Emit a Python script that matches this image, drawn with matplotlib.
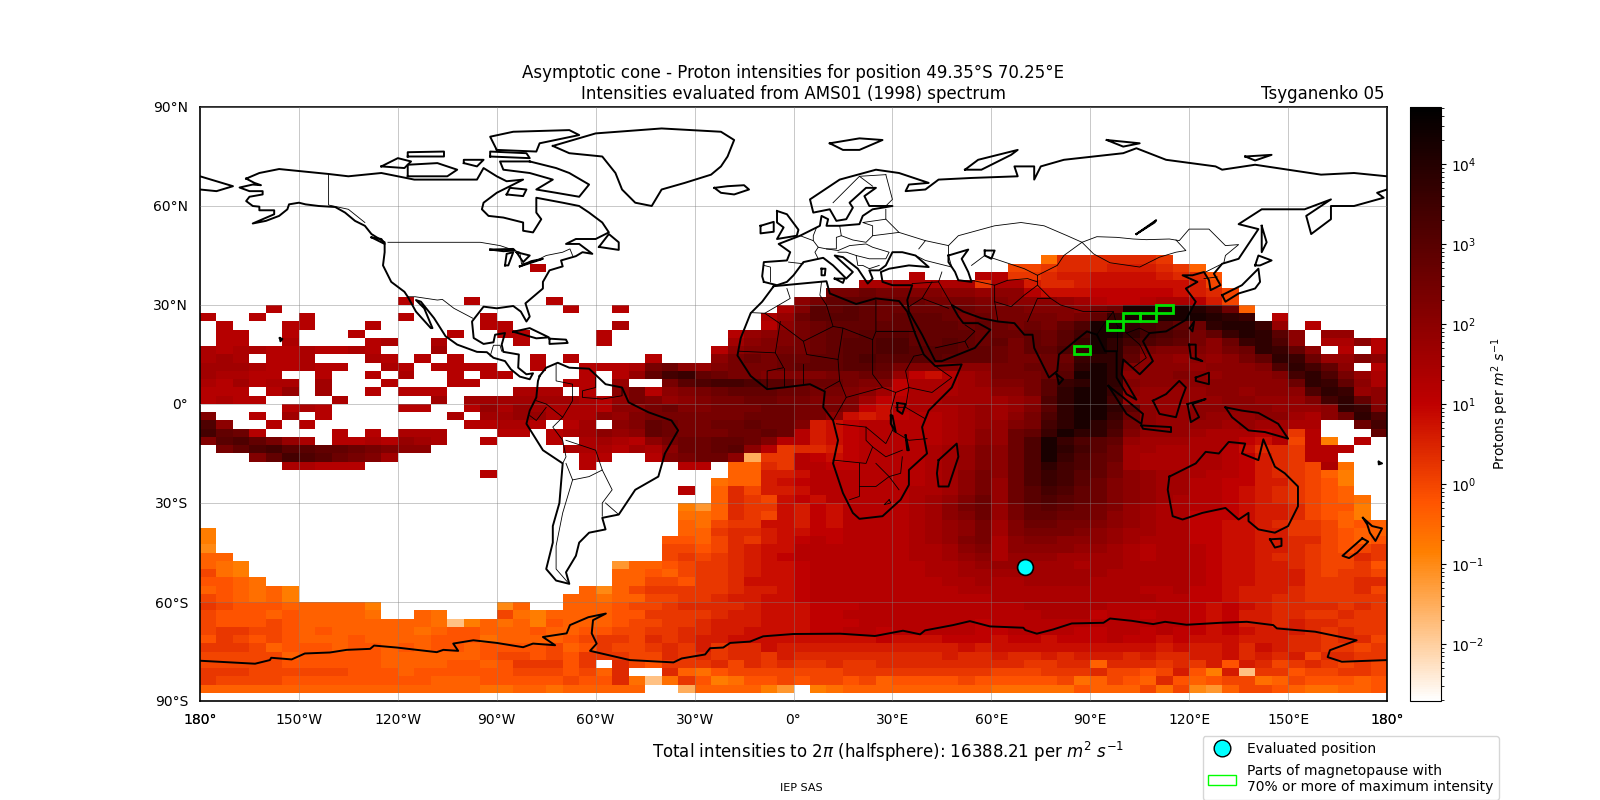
import matplotlib
matplotlib.use('Agg')
import matplotlib.pyplot as plt
import numpy as np
from matplotlib.colors import LogNorm
from matplotlib.lines import Line2D
from matplotlib.patches import Patch, Rectangle

E = '......'

# intensity cells, 5 x 2.5 degrees, north to south from 45N, one letter per cell
# each group of six cells spans 30 degrees of longitude
intensity_rows = [
    [E, E, E, E, E, E, E, E, '...dii', 'iiiih.', E, E],
    [E, E, E, '..m...', E, E, E, E, '.gghii', 'ijjjih', 'e.....', E],
    [E, E, E, E, E, E, E, '.m...m', 'mhhijj', 'kkkkji', 'if....', E],
    [E, E, E, E, E, E, '....nn', 'nnnnnh', 'nnjiij', 'kkkkkk', 'jg....', E],
    [E, E, E, E, E, E, '..ssts', 'srrqqp', 'qqmkkk', 'lllllk', 'jig...', E],
    [E, E, 'm...m.', '...m..', E, E, 'qsuuut', 'ttsssr', 'rqqqpo', 'mllmnn', 'mjg...', E],
    ['....m.', E, E, '....m.', '.m....', '.....n', 'rvuvut', 'ttttts', 'ssrrrq', 'st9999', '8yte..', E],
    ['m..m..', 'm.....', 'm....m', E, E, '....np', 'tvvvut', 'uuutst', 'ssssrs', 'uy9999', '98zy.m', E],
    ['.m...m', 'm...m.', '.....m', 'm.....', '.n....', '....mq', 'stuuuu', 'uuuutu', 'tstsuw', '99zxwu', 'tz88yp', '.m....'],
    ['.mm..m', '...m..', '...m..', 'mm....', 'm.....', '..mpqr', 'stuuvv', 'vuuuut', 'ttutvx', '99zxwv', 'suy8zv', 'q.pp..'],
    ['.mm..n', '....mn', '..n...', '.m....', 'm.....', '..oqrr', 'stuvvw', 'wuuvut', 'usutvy', '9zxwvu', 'sqtyzw', 'q.nnqm'],
    ['nmnnmm', 'nmmnm.', '..o...', E, E, '.mqrrs', 'stuvvw', 'wvvvuu', 'tsuuwz', '9zvsrr', 'rqstzy', 'uq.m.m'],
    ['non.mm', 'n...nm', '.m.m..', '..m.m.', '...m..', '.qstst', 'tuuvwv', 'vvvuuu', 'tsstty', 'zzuqqp', 'qpqsuz', 'ytpprq'],
    ['ooonmm', 'nmm..n', 'm.mmmm', '..m..m', 'mmnstq', 'prssst', 'uuuvvu', 'srrrqq', 'ssttuz', '9zrqqq', 'pqqqrw', 'zxuq.m'],
    ['onnmm.', '.m..m.', 'n..m.m', 'm....m', '.mpuxy', 'utssrr', 'rrsstt', 'plkmop', 'ssstv9', '9zqqqr', 'qpqqqr', 'xzwspn'],
    ['nmomnn', '.o...m', '...mm.', '....mm', '.p..sv', 'wxxwvv', 'tttsrr', 'lnnnop', 'rrsvyz', '9zrqqq', 'qqqqqq', 'tzyuqn'],
    ['mmm.mp', '.o..m.', 'mmm...', '.nnn.m', '.qsmqr', 'stuuut', 'tssrqo', 'lnnnoo', 'qqsvz9', '9yqppp', 'pqqpqq', 'qwzypq'],
    ['mnmm..', '..n...', '..o.oo', 'ooooon', 'mpsrpq', 'rsstts', 'srrrol', 'mnnooo', 'opqwz9', '9xpppp', 'ppqqpp', 'prxzuq'],
    ['.....m', 'nm....', 'mm..mp', 'nponnn', 'mqqstr', 'rssstt', 'sssrlk', 'mnnnop', 'oprvz9', '9zvqpp', 'qqqqqp', 'ppqzyr'],
    ['r..m.o', '.m....', '...n.o', 'oppnnn', 'qprsss', 'sssttt', 'ssqkjk', 'lmmnop', 'oqswz9', '9ytqpp', 'qpppqq', 'onqtzw'],
    ['wq..m.', 'm.....', '....mm', 'nnm.mo', '.qruts', 'sttutt', 'rjklmm', 'mmmnop', 'prsxz9', 'zxsqpp', 'ppopoo', 'nn..tx'],
    ['xutm..', '..m.m.', 'nnn...', 'mm.mno', 'qpquts', 'ssttut', 'mjklmm', 'mmmnoq', 'ptuy9z', 'zwrppp', 'onnnmn', 'hm...u'],
    ['rvwusp', 'n.mmnm', 'pon..m', '...m.n', 'onmqst', 'tuutrm', 'mjklmm', 'mmmnoq', 'ptw9yw', 'vupooo', 'nnnlkm', 'gmc.m.'],
    ['.suwxv', 'vuutsr', 'qq....', '....nn', 'nmonqt', 'tuvqmh', 'iijlmm', 'mmnopr', 'qtw9zx', 'vtoonn', 'nnmkii', 'hmmm..'],
    ['...rux', 'wvtsro', E, '.....m', 'm..mrs', 'ttq2hh', 'mlklmm', 'mmnopr', 'qtw9yw', 'utonnn', 'nnmlji', 'hmm...'],
    ['.....n', 'nmmm..', E, '.....m', '.....m', 'm.eeih', 'mmllmm', 'mmnopr', 'qtwzxw', 'usonnn', 'nnmlji', 'hgnd..'],
    [E, E, '.....m', E, E, '..eejj', 'kmmmmm', 'mmnoqs', 'qtwyxv', 'usqpoo', 'nmmlji', 'hgec..'],
    [E, E, E, E, E, '.deejk', 'lmmmmm', 'mmnoqs', 'ptwyxv', 'trqpoo', 'mmlljj', 'hgfc..'],
    [E, E, E, E, '.....m', '.eigjj', 'kmmmmm', 'mnnoqs', 'ptvxwu', 'trqpoo', 'mmlkji', 'hgfe..'],
    [E, E, E, E, E, '.eihgk', 'lkmmmm', 'mnoprt', 'ptvwvu', 'trqpon', 'mmlkji', 'hgfed.'],
    [E, E, E, E, '.....c', 'aeihhk', 'jlkmmm', 'mnoqst', 'psuvut', 'srponn', 'mmlkjj', 'igffc.'],
    [E, E, E, E, '.....d', 'deihgk', 'jlkmmm', 'mnoqrt', 'psuutt', 'sqponn', 'lllkjj', 'igfec.'],
    [E, E, E, E, '.....e', 'dghhkk', 'jlkmmm', 'mnopqs', 'orttss', 'rqponn', 'llkkji', 'hhgefe'],
    ['c.....', E, E, E, '.....e', 'ehiijk', 'kllmmm', 'mnopqs', 'orsssr', 'qpoonn', 'llkkjj', 'hhgfee'],
    ['c.....', E, E, E, '....ff', 'egihjk', 'lmlmmm', 'mnoprs', 'nqrrqq', 'qponnn', 'llkkjj', 'iigfef'],
    ['b.....', E, E, E, '....gg', 'fgijkk', 'mmmmmm', 'mnnoqr', 'nqqqqp', 'ponmnn', 'mlkkjj', 'ihgfgh'],
    ['ee....', E, E, E, '....gh', 'ghijkl', 'mmmmmm', 'mnnopq', 'npppoo', 'oonmnn', 'mlkkji', 'ihggih'],
    ['edc...', E, E, E, '.aeefg', 'hhijkk', 'lmmmmm', 'mmnnop', 'ppooon', 'oonnnn', 'mlkkjj', 'ihgghf'],
    ['gdc...', E, E, E, '.eefeg', 'hhijkk', 'lmmmmm', 'mmnnoo', 'oooooo', 'onnnnn', 'mlkkjj', 'jhghhg'],
    ['ffed..', E, E, E, '.eeggf', 'hhikkk', 'lmmmmm', 'mmmnno', 'nnoooo', 'nnnnnn', 'mlkkjj', 'jhhhii'],
    ['efedec', E, E, '.....e', 'beghhh', 'hhijjk', 'lmmmmm', 'mmmmnn', 'nnnnnn', 'nnnmmn', 'llkjjj', 'ihhhig'],
    ['gfedec', E, E, '....ee', 'deeggh', 'hijjkk', 'lmmmmm', 'mmmmmm', 'nnnnnn', 'nnnnmm', 'llkjji', 'ihhhhh'],
    ['hgfffe', 'eeeec.', E, 'be..ee', 'efgghi', 'iiijkk', 'klllmm', 'mmmmmm', 'mmnnnn', 'nmmmmm', 'lklkji', 'iiihih'],
    ['gfffef', 'eeeed.', '.ed...', 'gdceee', 'effhhh', 'hijjkk', 'kllmmm', 'mmmmmm', 'mmmnnn', 'lmmlmm', 'lkljji', 'ihhihh'],
    ['gfffgf', 'eeeeee', 'eed1ce', 'decfee', 'efgghh', 'ijjjkk', 'klllmm', 'mmmmml', 'mmmmmm', 'mmmmmm', 'lkljji', 'jiihhh'],
    ['ghhggf', 'efeeee', 'edeffe', 'eefeef', 'fgghhi', 'ijjkkk', 'kllmml', 'mmmmml', 'lmmmml', 'lmmlml', 'lklkjj', 'jihihh'],
    ['fhgfgf', 'eeefee', 'eefffd', 'eeeefg', 'hhgihi', 'jjkkkk', 'kkkkkl', 'kkklll', 'kllkll', 'lmllkl', 'kkkjjj', 'iihiig'],
    ['hhhgef', 'ffeffe', 'feffef', 'fffgef', 'hgghih', 'jhiikj', 'jjjjjj', 'jjjjkj', 'kkkkkk', 'kkkkjk', 'jjkikj', 'iihhgh'],
    ['ggggge', 'fffffe', 'eeeeef', 'ggfgfh', 'hhggih', 'ihiihj', 'iiiiii', 'iiijii', 'jiijij', 'jjijii', 'jjkiji', 'jgiihh'],
    ['gggggf', 'fffffe', 'eeeffe', 'fhhhfh', '.igfhh', 'higihi', 'hhihhi', 'iiiiii', 'iihhii', 'eiiihi', 'hjfjig', 'hihghg'],
    ['hhhggg', 'gggfff', 'efffff', 'fgggfg', 'ei..ie', 'dfgggg', 'ggghhh', 'hhhhhh', 'ggghhh', 'iggfgj', 'fcj1hh', 'fgghhg'],
    ['hggggf', 'ffffff', 'ffeeef', 'ffffgf', 'fid1dh', 'fcdffg', 'fggfge', 'ffffgf', 'ffffgd', 'egfeif', 'efggde', 'gfffef'],
    ['eeeeee', 'eeeeee', 'eeeeed', 'deedee', 'eee..2', 'eeeeca', '.cdeee', 'eeeeee', 'dddddf', 'eeegdg', 'baeggf', 'eddeef'],
]
level_codes = '12abcdefghijklmnopqrstuvwxyz89'
level_logs = [-1.8, -1.5, -1.2, -1.0, -0.8, -0.6, -0.4, -0.2, 0.0, 0.2, 0.4, 0.6, 0.8, 1.0, 1.2, 1.4,
              1.6, 1.8, 2.0, 2.2, 2.4, 2.6, 2.8, 3.0, 3.2, 3.4, 3.6, 3.8, 4.0, 4.2]

position_lon, position_lat = 70.25, -49.35
box_lon = [85, 95, 100, 105, 110]
box_lat = [15, 22.5, 25, 25, 27.5]

north_america = [(-166, 68.3), (-163.5, 67), (-161.5, 66.3), (-164, 66.5), (-168, 65.6), (-165, 64.5), (-161, 64.5), (-161, 63.5), (-165, 62.8), (-166, 61.5), (-164, 60), (-162, 59.8), (-162, 58.7), (-157.5, 58.7), (-157.5, 57.5), (-161, 56), (-164, 54.7), (-160, 55.5), (-156, 57), (-153.5, 59), (-153, 60.5), (-150, 61), (-148, 60.5), (-144, 60), (-139, 59.7), (-136, 58), (-133, 55.5), (-130, 54), (-128, 51.5), (-124, 49), (-124, 46), (-124.5, 42), (-122, 37), (-118, 34), (-117, 32.5), (-114.5, 28), (-110, 23), (-109.5, 23), (-112, 29), (-114.5, 31.5), (-113, 31), (-109, 26), (-105.5, 20.5), (-102, 18), (-96, 15.8), (-93, 15.7), (-91, 14), (-87.5, 13), (-85.7, 10.5), (-83, 8.3), (-80, 7.5), (-79, 9.3), (-81, 9), (-83.5, 11), (-83.3, 15), (-88, 15.8), (-88.5, 18), (-87.5, 21.5), (-90.5, 21), (-91, 18.7), (-94, 18.2), (-97, 20), (-97.5, 25), (-94, 29.5), (-90, 29), (-85, 29.7), (-82.7, 28), (-81, 25), (-80, 26.5), (-81.3, 30.5), (-76, 35), (-76, 37), (-74, 40.5), (-70, 41.7), (-70.5, 43.5), (-66, 44.8), (-64, 46), (-61, 45.5), (-65, 48.5), (-69, 48.5), (-66, 50), (-60, 50), (-56, 52), (-58, 55), (-62, 58), (-65, 60), (-70, 61), (-78, 62.5), (-78, 58), (-76.5, 56), (-79, 52), (-82, 52.5), (-82, 55), (-88, 56.5), (-92.5, 57), (-94.5, 59), (-94, 61), (-90, 64), (-86, 66), (-82, 68), (-87, 67.5), (-90, 69), (-94, 71.5), (-96, 68), (-108, 68), (-115, 68), (-125, 70), (-135, 69), (-141, 69.7), (-156, 71.2), (-162, 70), (-166, 68.3)]
greenland = [(-73, 78.2), (-60, 82), (-40, 83.5), (-22, 82.5), (-18, 80), (-20, 75), (-22, 72), (-25, 69.5), (-33, 67), (-40, 65), (-43, 60), (-48, 61), (-52, 65), (-54, 70), (-58, 75), (-68, 76), (-73, 78.2)]
south_america = [(-77, 8.5), (-75, 11), (-71.5, 12.5), (-68, 11), (-62, 10.7), (-57, 6), (-52, 5), (-50, 0.5), (-44, -2.5), (-37, -5), (-35, -8), (-39, -15), (-41, -22), (-48, -26), (-53, -33.5), (-58, -34.5), (-57, -38), (-62, -39), (-65, -42), (-66, -46), (-69, -51), (-68, -54.5), (-72, -53.5), (-75, -50), (-73, -42), (-73, -37), (-71, -30), (-70, -18), (-76, -14), (-81, -6), (-80, -2), (-78, 2), (-77.5, 7), (-77, 8.5)]
africa = [(-6, 35.7), (10, 37.2), (11, 33.5), (19, 30.3), (25, 32), (32, 31.2), (34.5, 28), (37, 21), (39.5, 15), (43, 11.5), (51, 12), (48, 5), (41, -2), (39, -7), (40.5, -15), (35, -20), (35, -24.5), (32.5, -29), (27, -34), (20, -34.8), (18, -33), (15, -27), (12, -18), (13.5, -11), (12, -5), (9, -1), (9.5, 3.8), (5, 6), (-3, 5), (-8, 4.5), (-13, 8.5), (-17, 14.7), (-16, 20), (-13, 27.5), (-9.5, 31), (-6, 35.7)]
eurasia_north = [(-9, 37), (-9.5, 38.7), (-9, 43), (-2, 43.5), (-1, 46), (-4.5, 48.5), (2, 51), (8, 54), (8.5, 57), (10.5, 56), (10, 54), (14, 54), (20, 54.5), (21, 57), (24, 59), (30, 60), (23, 60), (21.5, 63), (25, 65.5), (22, 65.5), (17, 61), (18, 59.5), (16, 56), (13, 55.5), (11, 59), (6, 58), (5, 62), (14, 68), (25, 71), (32, 70), (41, 67), (35, 66.5), (34, 64.5), (40, 65), (44, 68), (54, 68.5), (68, 69), (67, 72), (73, 72), (73, 68), (75, 72), (82, 74), (100, 76), (104, 77.5), (113, 74), (128, 72), (130, 71), (140, 72.5), (160, 69.5), (170, 70), (180, 69)]
chukotka = [(-180, 69), (-170, 66), (-175, 64.5), (-180, 65)]
eurasia_south = [(180, 65), (177, 64), (179, 62.5), (170, 60), (163, 60), (163, 56), (157, 51.5), (155.5, 57), (163, 62), (155, 59), (142, 59), (135, 54.5), (141, 53), (135, 44), (130, 42.5), (127.5, 39.5), (129.5, 36), (126.5, 34.5), (126, 37.5), (124.5, 40), (121, 39), (118, 39), (122.5, 37), (119, 35), (122, 31), (119, 25.5), (113, 22), (108, 21.5), (106, 19), (109, 13), (105, 9), (100, 13.5), (99.5, 9), (103, 3), (104, 1.3), (101, 3), (98, 8), (98, 16), (94.5, 16), (92, 21), (89, 22), (86.5, 20), (80.5, 15), (80, 10), (77.5, 8), (73, 17), (72.5, 21), (70, 21), (67, 24.5), (62, 25), (57, 26), (51.5, 28), (48, 30), (50, 26.5), (51.5, 24.5), (56, 24.5), (59.7, 22.5), (55, 17), (45, 13), (43, 13), (39, 21), (35, 28), (34.5, 31.5), (36, 36), (30, 36), (27, 37), (26.5, 40), (29, 41), (35, 42), (41, 41.5), (37, 45), (33, 46), (30, 46), (28, 42), (26, 40.5), (23, 40.5), (24, 38), (22.5, 36.5), (19.5, 41), (15, 44.5), (12.5, 45), (18, 40), (16, 38), (12, 42), (9, 44.3), (3, 43), (0, 39), (-2, 37), (-5, 36), (-9, 37)]
australia = [(114, -22), (113.5, -26), (115, -34), (118, -35), (124, -33), (131, -31.5), (135, -35), (138, -33), (138, -35.5), (141, -38), (146, -39), (150, -37), (153, -31), (153, -25), (149, -21), (146, -19), (142.5, -10.7), (141, -17), (136, -15), (137, -12), (132, -11.5), (129, -15), (125, -14.5), (122, -18), (114, -22)]
antarctica = [(-180, -77.8), (-163.3, -78.7), (-158.8, -77.6), (-158.4, -76.9), (-152.2, -77.4), (-148.2, -75.6), (-140.6, -75.3), (-135.5, -74.5), (-128.4, -74.2), (-127.2, -73.2), (-120.3, -73.8), (-108.2, -75.2), (-106.2, -74.5), (-101.7, -74.8), (-103.2, -72.6), (-97.1, -71.6), (-90, -72.4), (-82, -73.7), (-79, -72.6), (-72.3, -73.1), (-76, -70.6), (-68.8, -69.5), (-67.8, -67), (-62.2, -64.6), (-56.9, -63.5), (-60.8, -65.5), (-61.2, -69.5), (-59.7, -72.6), (-61.7, -74.8), (-49.6, -77.6), (-36.4, -78.3), (-33.9, -77.1), (-26.8, -75.9), (-25.3, -74), (-21.3, -73.8), (-19.2, -72.4), (-13.2, -72), (-9.2, -70.4), (-0.1, -69.7), (14.1, -69.6), (24.7, -70.3), (33.2, -68.7), (38.4, -69.8), (39.9, -68.6), (48.4, -67), (53.5, -65.8), (59.6, -67.4), (69.7, -67.8), (70.3, -68.5), (73.8, -69.6), (78.8, -68.3), (84.4, -66.5), (94, -66.3), (96, -65), (102.6, -65.7), (109.1, -66.7), (112.7, -66), (119.2, -66.9), (129.4, -66.3), (137.5, -66), (145.5, -67), (146.6, -68), (158.2, -69), (170.8, -71.6), (162.7, -74.6), (162, -76.7), (166.3, -78.1), (180, -77.6)]
islands = [
    [(-80, 73.5), (-72, 71.5), (-68, 70), (-62, 66.5), (-65, 62.8), (-72, 64), (-78, 65), (-73, 68), (-80, 70), (-88, 71), (-89, 73.5), (-80, 73.5)],
    [(-117, 69), (-105, 69), (-102, 71), (-108, 73), (-117, 72.5), (-117, 69)],
    [(-125, 72), (-118, 71.5), (-116, 73.5), (-120, 74.5), (-125, 72)],
    [(-90, 77), (-78, 76.5), (-77, 79), (-65, 81.5), (-68, 83), (-85, 82.5), (-92, 81), (-90, 77)],
    [(-92, 75), (-80, 74.5), (-81, 76), (-92, 76.5), (-92, 75)],
    [(-117, 75), (-106, 75), (-106, 76.5), (-117, 76.3), (-117, 75)],
    [(-100, 73), (-96, 72), (-94, 74), (-100, 74), (-100, 73)],
    [(-87, 63.5), (-82, 63), (-81, 65), (-86, 65.5), (-87, 63.5)],
    [(-59, 47.6), (-53, 46.7), (-53, 49), (-56, 51.5), (-59, 47.6)],
    [(-128, 50.5), (-124, 48.5), (-125, 50), (-128, 50.5)],
    [(-85, 21.9), (-80, 23), (-74.2, 20.2), (-78, 19.9), (-85, 21.9)],
    [(-74, 19.8), (-69, 19.5), (-68.5, 18.5), (-74, 18.2), (-74, 19.8)],
    [(-24, 65.5), (-20, 66), (-15, 66.3), (-13.5, 65), (-18, 63.5), (-22, 64), (-24, 65.5)],
    [(-10, 54), (-6, 55.2), (-6, 52.2), (-10, 51.7), (-10, 54)],
    [(-5, 58.5), (-2, 57.5), (1.5, 52.8), (1, 51), (-5, 50), (-3, 53.5), (-5, 55), (-5, 58.5)],
    [(11, 79), (20, 80.5), (27, 80), (20, 77), (15, 77), (11, 79)],
    [(52, 71), (56, 74), (68, 77), (66, 75.5), (57, 71), (52, 71)],
    [(95, 80), (105, 79), (100, 78), (95, 80)],
    [(137, 75), (145, 75.5), (140, 73.8), (137, 75)],
    [(142, 54), (143.5, 49), (142, 46), (142, 54)],
    [(140, 42), (141, 45), (145, 43.5), (141.5, 42), (140, 42)],
    [(130, 33), (136, 36), (141, 41), (141.5, 37), (140, 35), (135, 33.5), (131, 31), (130, 33)],
    [(120.2, 23), (121.5, 25), (121, 22), (120.2, 23)],
    [(120, 18), (122, 18), (122, 14), (124, 13), (120.5, 14), (120, 18)],
    [(122, 8), (126, 9.5), (126, 6), (122, 7), (122, 8)],
    [(95.5, 5.5), (100, 2), (106, -3), (105.5, -6), (101, -3), (95.5, 5.5)],
    [(105.5, -6.5), (114.5, -7), (114.5, -8.5), (106, -7.5), (105.5, -6.5)],
    [(109, 1), (113, 3), (117, 7), (119, 5), (117.5, 1), (116, -4), (111, -3), (109, 1)],
    [(119.5, 0), (125, 1.5), (121, 0), (123, -4), (120.5, -5.5), (119.5, 0)],
    [(131, -1), (136, -2), (141, -2.7), (147, -6), (150, -10.5), (143, -8.5), (138, -8), (133, -4), (131, -1)],
    [(144.5, -41), (148, -40.8), (148, -43), (146, -43.5), (144.5, -41)],
    [(172.7, -34.5), (175.5, -37), (178.5, -37.7), (176.5, -41.5), (174.8, -39), (174, -36.5), (172.7, -34.5)],
    [(172.5, -40.7), (174.3, -41.7), (171, -45), (168.5, -46.7), (166.5, -46), (172.5, -40.7)],
    [(44, -17), (49.5, -12), (50, -16), (47, -25), (44, -25), (43.5, -21), (44, -17)],
    [(79.8, 9), (81.8, 7.5), (80.5, 6), (79.8, 9)],
    [(8.5, 41), (9.7, 41), (9.5, 39), (8.5, 39), (8.5, 41)],
    [(12.5, 38), (15.5, 38), (15, 36.7), (12.5, 38)],
    [(-155.8, 20), (-155, 19.7), (-155.6, 19), (-155.8, 20)],
    [(177.5, -17.5), (178.5, -18), (177.5, -18.3), (177.5, -17.5)],
]
inland_water = [
    [(47, 45), (53, 46.8), (51, 44), (53, 40), (54, 37), (50, 37.5), (49, 40), (47, 43), (47, 45)],
    [(104, 51.5), (110, 55.7), (109.5, 55), (104, 51.5)],
    [(-92, 46.8), (-85, 47), (-84.5, 46.5), (-88, 46.3), (-92, 46.8)],
    [(-87.5, 42), (-87, 45.5), (-85, 46), (-86.5, 42), (-87.5, 42)],
    [(-84, 46), (-80, 45), (-82, 43), (-84, 46)],
    [(-83, 41.7), (-79, 43), (-76, 44), (-79.5, 43.3), (-83, 41.7)],
    [(58, 46.5), (61, 46.5), (60, 44), (58, 45), (58, 46.5)],
    [(31.5, 0.3), (34, 0), (33, -3), (31.5, -2), (31.5, 0.3)],
    [(29.5, -3.5), (30, -3.5), (31, -8.5), (29.5, -6), (29.5, -3.5)],
    [(34, -9.5), (35, -14), (34.5, -14), (34, -9.5)],
]
borders = [
    [(-141, 69.7), (-141, 60.3), (-135, 59), (-130, 55)],
    [(-123, 49), (-95, 49), (-89, 48), (-83, 46), (-82.5, 42.5), (-79, 43), (-75, 45), (-70, 46), (-67.8, 47), (-67, 45)],
    [(-117, 32.5), (-114.7, 32.5), (-108, 31.5), (-106.5, 31.7), (-103, 29), (-97.3, 26)],
    [(-92, 14.5), (-91, 17.8), (-89, 17.8), (-88.5, 16)],
    [(-72, 12), (-72, 7), (-67, 6), (-67, 1), (-70, -4), (-73, -7), (-70, -11), (-69, -16), (-70, -18)],
    [(-60, 8), (-60, 5), (-64, 4), (-64, 2), (-58, 1.5), (-52, 2.5), (-52, 5)],
    [(-78, 1), (-75, 0), (-70, -4)],
    [(-80, -3.5), (-78, -5), (-75, -1)],
    [(-69, -11), (-60, -14), (-58, -20), (-62, -22), (-67, -23), (-69, -18)],
    [(-67, -23), (-70, -33), (-72, -43), (-72, -50), (-68.5, -54)],
    [(-58, -20), (-55, -26), (-58, -30), (-58, -34)],
    [(-53, -33.5), (-57, -30)],
    [(-13, 27.7), (-8.7, 27.5), (-1, 32), (-2, 35)],
    [(-8.7, 27.5), (-5, 25), (3, 19), (12, 23.5), (10, 30), (8, 33), (8.5, 37)],
    [(12, 23.5), (15, 23), (24, 19.5), (25, 22), (25, 31.5)],
    [(25, 22), (37, 22)],
    [(24, 19.5), (24, 9), (27, 5), (31, 3.5), (35, 5), (42, 3.5), (48, 8), (43, 11.5)],
    [(35, 5), (34, 10), (36.5, 14.5), (39, 15)],
    [(-16.5, 16), (-5.5, 15.5), (-4, 25)],
    [(-5.5, 15.5), (-3, 11), (-8, 10), (-8, 4.5)],
    [(-3, 11), (-3, 5)],
    [(3, 19), (4, 15), (13.5, 13.5), (15, 23)],
    [(3, 12), (3, 6)],
    [(13.5, 13.5), (14, 7), (9.5, 4.5)],
    [(14, 7), (16, 2), (27, 5)],
    [(16, 2), (12, -5)],
    [(13, -6), (22, -7), (22, -11), (24, -13), (22, -18), (12, -17)],
    [(22, -7), (28, -12), (30, -8), (29.5, -2), (31, 3.5)],
    [(31, -1), (34, -1), (40, -4.5)],
    [(34, -1), (35, 5)],
    [(30, -8), (35, -11), (40.5, -10.5)],
    [(24, -13), (28, -16), (33, -14)],
    [(20, -18), (20, -28), (17, -29)],
    [(20, -25), (25, -25), (29, -22), (32, -26)],
    [(25, -18), (29, -22), (32.5, -21), (33, -16)],
    [(29, -29), (29.5, -30), (27.5, -30.5), (29, -29)],
    [(-1.5, 43), (3, 42.5)],
    [(-9, 42), (-7, 41.5), (-7, 37)],
    [(2, 51), (6, 49.5), (7.5, 47.5), (10, 47), (13, 47), (13, 50.5), (14.5, 51), (14, 54)],
    [(6, 49.5), (6, 51), (7, 53.5)],
    [(7.5, 47.5), (6.5, 46), (7.5, 44)],
    [(10, 47), (13.5, 46.5), (17, 48), (22, 48.5), (24, 47.5), (29, 46), (28, 44), (23, 44), (19, 45), (16, 46), (13.5, 46)],
    [(14.5, 51), (18, 49.7), (22, 49), (24, 51), (24, 54), (21, 55), (28, 56), (28, 59)],
    [(24, 51), (32, 52), (40, 49.5), (38, 47)],
    [(28, 56), (32, 52)],
    [(28, 69.5), (30, 62), (28, 60)],
    [(12, 61), (20, 69), (28, 69.5)],
    [(20, 69), (24, 66)],
    [(23, 41), (21, 42), (19.5, 42), (19, 45)],
    [(26, 42), (23, 41)],
    [(47, 48), (50, 51), (61, 54), (69, 55), (76, 54), (83, 51), (87.5, 49), (92, 50.7), (98, 50.5), (103, 50), (107, 49.8), (114, 50), (117, 49.5), (120, 53), (126, 53), (131, 48), (135, 48.3), (131, 45), (130.5, 42.7)],
    [(37, 45), (40, 43.5), (48, 41.5), (47, 45), (47, 48), (40, 49.5)],
    [(87.5, 49), (91, 45.5), (96, 42.8), (105, 41.5), (111, 44.5), (116, 46), (119, 46.5), (116, 49.7)],
    [(87.5, 49), (82, 45), (80, 42), (74, 39), (74, 36), (78, 32), (81, 30), (88, 28), (97, 28), (98, 24), (101, 21.5), (105, 23), (108, 21.5)],
    [(54, 42), (58, 45), (61, 44), (70, 41), (74, 39)],
    [(54, 37.5), (61, 36), (65, 37.5), (71, 38), (74, 37)],
    [(61, 36), (61, 31), (62, 25)],
    [(61, 31), (66, 29.5), (70, 33), (74, 36)],
    [(71, 25), (74, 32), (78, 32)],
    [(92, 21), (94, 24), (97, 28)],
    [(98, 16), (98, 24)],
    [(101, 21.5), (105, 18), (107, 14), (103, 11)],
    [(45, 40), (44, 37), (48, 30)],
    [(44, 37), (36, 36.5)],
    [(39, 32), (42, 37)],
    [(35, 29.5), (39, 32), (47, 29)],
    [(43, 17), (52, 19), (55, 22), (52, 24)],
    [(52, 19), (53, 17)],
    [(125, 40), (130, 42.5)],
    [(124.5, 38), (128.5, 38.5)],
]

lon_edges = np.arange(-180, 181, 5)
lat_edges = np.arange(45, -90, -2.5)

total_label = 'Total intensities to $2\\pi$ (halfsphere): 16388.21 per $m^2$ $s^{-1}$'

cells = np.full((len(intensity_rows), 72), np.nan)
for r, groups in enumerate(intensity_rows):
    for c, code in enumerate(''.join(groups)):
        if code != '.':
            cells[r, c] = 10.0 ** level_logs[level_codes.index(code)]

fig = plt.figure(figsize=(16, 8), dpi=100)
ax = fig.add_axes([200 / 1600, 99 / 800, 1187 / 1600, 594 / 800])

mesh = ax.pcolormesh(lon_edges, lat_edges, np.ma.masked_invalid(cells), cmap='gist_heat_r',
                     norm=LogNorm(vmin=0.00193, vmax=51800), zorder=1)

for shape in [north_america, greenland, south_america, africa, eurasia_north, chukotka, eurasia_south,
              australia, antarctica] + islands + inland_water:
    xs, ys = zip(*shape)
    ax.plot(xs, ys, color='black', lw=1.4, zorder=3)
for shape in borders:
    xs, ys = zip(*shape)
    ax.plot(xs, ys, color='black', lw=0.6, zorder=3)

for lo, la in zip(box_lon, box_lat):
    ax.add_patch(Rectangle((lo, la), 5, 2.5, fill=False, edgecolor='#00e000', lw=2, zorder=5))
ax.scatter([position_lon], [position_lat], s=130, color='cyan', edgecolor='black', linewidth=1.2, zorder=6)

ax.set_xlim(-180, 180)
ax.set_ylim(-90, 90)
ax.set_xticks(np.arange(-150, 151, 30))
ax.set_xticklabels(['150°W', '120°W', '90°W', '60°W', '30°W', '0°', '30°E', '60°E', '90°E', '120°E', '150°E'])
# both ends carry the same label twice, as the gridliner draws them
ax.set_xticks([-180, -180, 180, 180], labels=['180°'] * 4, minor=True)
ax.set_yticks(np.arange(-90, 91, 30))
ax.set_yticklabels(['90°S', '60°S', '30°S', '0°', '30°N', '60°N', '90°N'])
ax.tick_params(which='both', length=0, pad=8.5, labelsize=10)
ax.grid(True, color='gray', lw=0.5, alpha=0.6, zorder=2)
ax.set_axisbelow(False)
for spine in ax.spines.values():
    spine.set_linewidth(1.2)

ax.set_title('Asymptotic cone - Proton intensities for position 49.35°S 70.25°E\n'
             'Intensities evaluated from AMS01 (1998) spectrum', fontsize=12)
ax.set_title('Tsyganenko 05', loc='right', fontsize=12, x=0.9975)

cax = fig.add_axes([1410 / 1600, 99 / 800, 31 / 1600, 594 / 800])
cbar = fig.colorbar(mesh, cax=cax)
cbar.set_label('Protons per $m^2$ $s^{-1}$')

fig.text(888 / 1600, 1 - 752 / 800, total_label, ha='center', va='center', fontsize=12)
fig.text(801 / 1600, 1 - 788 / 800, 'IEP SAS', ha='center', va='center', fontsize=8)

handles = [Line2D([], [], marker='o', ls='none', ms=12, mfc='cyan', mec='black'),
           Patch(facecolor='none', edgecolor='lime')]
fig.legend(handles, ['Evaluated position', 'Parts of magnetopause with\n70% or more of maximum intensity'],
           loc='lower right', bbox_to_anchor=(1499 / 1600, 0.0), borderaxespad=0, fontsize=10, labelspacing=0.6)

fig.savefig('out.png', dpi=100)
plt.close(fig)
